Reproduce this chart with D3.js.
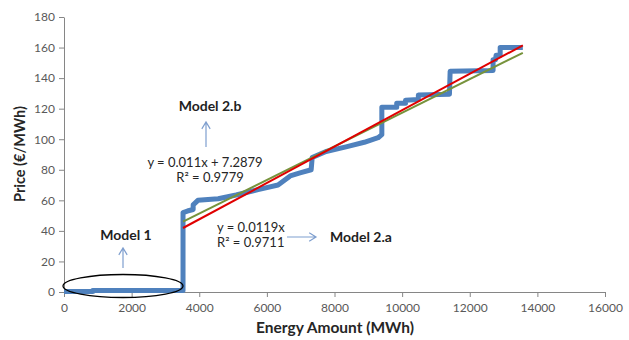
<!DOCTYPE html>
<html>
<head>
<meta charset="utf-8">
<script src="https://cdn.jsdelivr.net/npm/d3@7"></script>
<style>
  body { margin: 0; background: #fff; }
  svg { font-family: Lato, "Open Sans", sans-serif; }
  .axis path, .axis line { stroke: #868686; }
  .axis text { fill: #595959; font-size: 12px; font-family: Lato, sans-serif; }
</style>
</head>
<body>
<svg id="chart" width="629" height="340"></svg>
<script>
// blue step curve (merit order)
const energy = [0, 850, 850, 3520, 3520, 3650, 3820, 3820, 3960, 4560, 5090, 5740, 6330, 6690, 6980, 7310, 7340,
                7750, 8340, 8880, 9290, 9400, 9400, 9840, 9840, 10100, 10100, 10480, 10480, 11400, 11420,
                12690, 12690, 12760, 12780, 12900, 12900, 13570];
const price  = [0.3, 0.3, 1, 1, 52, 53, 54, 57, 60, 61, 63.5, 67, 70, 76, 78, 80, 88,
                92, 95, 98, 101, 103, 121, 121, 123.5, 123.5, 125.5, 126, 129, 129.5, 144.5,
                145, 152, 152, 155, 155, 160, 160];

// trendlines from the equations shown on the chart
const trendStart = 3520, trendEnd = 13570;
const modelA = {slope: 0.0119, intercept: 0};        // red
const modelB = {slope: 0.011, intercept: 7.2879};    // green

const xTicks = [0, 2000, 4000, 6000, 8000, 10000, 12000, 14000, 16000];
const yTicks = [0, 20, 40, 60, 80, 100, 120, 140, 160, 180];

const svg = d3.select("#chart");

const x = d3.scaleLinear().domain([0, 16000]).range([64, 605]);
const y = d3.scaleLinear().domain([0, 180]).range([292, 17]);

svg.append("g")
    .attr("class", "axis")
    .attr("transform", "translate(0,292)")
    .call(d3.axisBottom(x).tickValues(xTicks).tickFormat(d3.format("d"))
        .tickSize(5).tickSizeOuter(0).tickPadding(6));

svg.append("g")
    .attr("class", "axis")
    .attr("transform", "translate(64,0)")
    .call(d3.axisLeft(y).tickValues(yTicks).tickFormat(d3.format("d"))
        .tickSize(5).tickSizeOuter(0).tickPadding(4));

// axis titles
svg.append("text")
    .attr("x", 335).attr("y", 333)
    .attr("text-anchor", "middle")
    .attr("font-weight", "bold").attr("font-size", 15.5).attr("fill", "#262626")
    .text("Energy Amount (MWh)");

svg.append("text")
    .attr("transform", "translate(25,154) rotate(-90)")
    .attr("text-anchor", "middle")
    .attr("font-weight", "bold").attr("font-size", 14.5).attr("fill", "#262626")
    .text("Price (€/MWh)");

// data line
const line = d3.line().x((d, i) => x(energy[i])).y(d => y(d));
svg.append("path")
    .datum(price)
    .attr("fill", "none")
    .attr("stroke", "#4F81BD")
    .attr("stroke-width", 5)
    .attr("stroke-linejoin", "round")
    .attr("d", line);

// trendlines
const trend = m => [trendStart, trendEnd].map(e => [x(e), y(m.slope * e + m.intercept)]);
svg.append("path")
    .attr("fill", "none").attr("stroke", "#77933C").attr("stroke-width", 2)
    .attr("d", d3.line()(trend(modelB)));
svg.append("path")
    .attr("fill", "none").attr("stroke", "#E00000").attr("stroke-width", 2)
    .attr("d", d3.line()(trend(modelA)));

// ellipse round model 1
svg.append("ellipse")
    .attr("cx", 123).attr("cy", 286).attr("rx", 60).attr("ry", 11.5)
    .attr("fill", "none").attr("stroke", "#000").attr("stroke-width", 1.3);

// annotation arrows
const arrowColor = "#7F9FCF";
function arrow(x1, y1, x2, y2) {
    const a = Math.atan2(y2 - y1, x2 - x1), h = 8, w = 0.55;
    svg.append("path")
        .attr("fill", "none").attr("stroke", arrowColor).attr("stroke-width", 1.2)
        .attr("d", `M${x1},${y1}L${x2},${y2}` +
            `M${x2 - h * Math.cos(a - w)},${y2 - h * Math.sin(a - w)}L${x2},${y2}` +
            `L${x2 - h * Math.cos(a + w)},${y2 - h * Math.sin(a + w)}`);
}
arrow(123, 268, 123, 248);
arrow(206, 147, 206, 122);
arrow(287, 237, 316, 237);

// labels
const labels = [
    {t: "Model 1", x: 126, y: 240, bold: true, anchor: "middle"},
    {t: "Model 2.b", x: 210, y: 111, bold: true, anchor: "middle"},
    {t: "Model 2.a", x: 330, y: 242, bold: true, anchor: "start"},
    {t: "y = 0.011x + 7.2879", x: 205, y: 167, anchor: "middle"},
    {t: "R² = 0.9779", x: 210, y: 182, anchor: "middle"},
    {t: "y = 0.0119x", x: 217, y: 232, anchor: "start"},
    {t: "R² = 0.9711", x: 217, y: 247, anchor: "start"}
];
svg.selectAll(".lbl")
    .data(labels)
    .enter()
    .append("text")
    .attr("class", "lbl")
    .attr("x", d => d.x).attr("y", d => d.y)
    .attr("text-anchor", d => d.anchor)
    .attr("font-weight", d => d.bold ? "bold" : "normal")
    .attr("font-size", d => d.bold ? 14 : 13)
    .attr("fill", d => d.bold ? "#1F1F1F" : "#262626")
    .text(d => d.t);
</script>
</body>
</html>
